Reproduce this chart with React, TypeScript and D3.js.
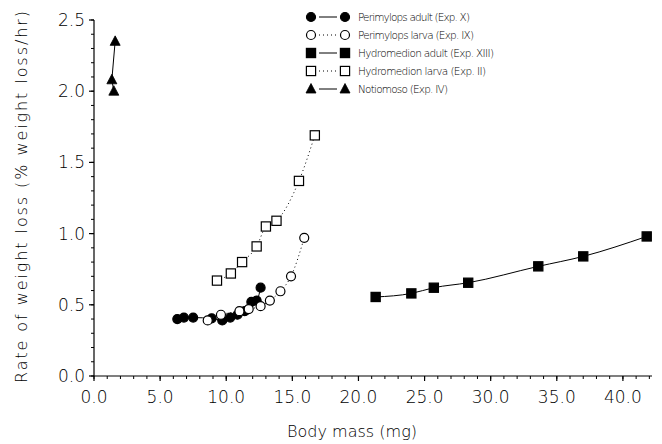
import React from "react";
import * as d3 from "d3";

const perimylopsAdult: [number, number][] = [
  [6.3, 0.40], [6.8, 0.41], [7.5, 0.41], [8.9, 0.405], [9.7, 0.39], [10.3, 0.41],
  [10.85, 0.43], [11.4, 0.455], [11.9, 0.52], [12.3, 0.53], [12.6, 0.62],
];
const perimylopsLarva: [number, number][] = [
  [8.6, 0.39], [9.6, 0.43], [11.0, 0.455], [11.7, 0.47], [12.6, 0.49],
  [13.3, 0.53], [14.1, 0.595], [14.9, 0.70], [15.9, 0.97],
];
const hydroAdult: [number, number][] = [
  [21.3, 0.555], [24.0, 0.58], [25.7, 0.62], [28.3, 0.655], [33.6, 0.77], [37.0, 0.84], [41.8, 0.98],
];
const hydroLarva: [number, number][] = [
  [9.3, 0.67], [10.35, 0.72], [11.2, 0.80], [12.3, 0.91], [13.0, 1.05], [13.8, 1.09], [15.5, 1.37], [16.7, 1.69],
];
const notiomoso: [number, number][] = [
  [1.6, 2.35], [1.35, 2.08], [1.5, 2.0],
];

const xMajor = [0, 5, 10, 15, 20, 25, 30, 35, 40];
const yMajor = [0, 0.5, 1.0, 1.5, 2.0, 2.5];
const legendLabels = [
  "Perimylops adult (Exp. X)",
  "Perimylops larva (Exp. IX)",
  "Hydromedion adult (Exp. XIII)",
  "Hydromedion larva (Exp. II)",
  "Notiomoso (Exp. IV)",
];
const legendLengths = [112, 116, 136, 128, 90];

const FONT = "'DejaVu Sans', sans-serif";

type Shape = "circle" | "square" | "triangle";

function Marker({ x, y, shape, filled }: { x: number; y: number; shape: Shape; filled: boolean }) {
  const fill = filled ? "#000" : "#fff";
  if (shape === "circle")
    return <circle cx={x} cy={y} r={4.5} fill={fill} stroke="#000" strokeWidth={1.2} />;
  if (shape === "square")
    return <rect x={x - 4.6} y={y - 4.6} width={9.2} height={9.2} fill={fill} stroke="#000" strokeWidth={1.2} />;
  return <path d={`M${x},${y - 5.5} L${x + 5},${y + 4} L${x - 5},${y + 4} Z`} fill={fill} stroke="#000" strokeWidth={0.8} />;
}

export default function App() {
  const W = 662, H = 444;
  const x = d3.scaleLinear().domain([0, 42.2]).range([94, 652]);
  const y = d3.scaleLinear().domain([0, 2.5]).range([376, 20]);
  const xMinor = d3.range(0, 43, 1);
  const yMinor = d3.range(0, 2.51, 0.1);

  const smooth = d3.line<[number, number]>().x(d => x(d[0])).y(d => y(d[1])).curve(d3.curveMonotoneX);
  const straight = d3.line<[number, number]>().x(d => x(d[0])).y(d => y(d[1]));

  const series = [
    { data: perimylopsAdult, shape: "circle" as Shape, filled: true, dash: undefined, line: smooth },
    { data: perimylopsLarva, shape: "circle" as Shape, filled: false, dash: "1 3", line: smooth },
    { data: hydroAdult, shape: "square" as Shape, filled: true, dash: undefined, line: smooth },
    { data: hydroLarva, shape: "square" as Shape, filled: false, dash: "1 3", line: smooth },
    { data: notiomoso, shape: "triangle" as Shape, filled: true, dash: undefined, line: straight },
  ];

  const legX = 311, legY = 17, legDy = 18;

  return (
    <svg width={W} height={H} style={{ position: "absolute", left: 0, top: 0, background: "#fff" }}>
      <rect width={W} height={H} fill="#fff" />
      {/* axes */}
      <line x1={x(0)} x2={x(42.2)} y1={y(0)} y2={y(0)} stroke="#000" strokeWidth={1.2} />
      <line x1={x(0)} x2={x(0)} y1={y(0)} y2={y(2.5)} stroke="#000" strokeWidth={1.2} />
      {xMinor.map(v => (
        <line key={"xm" + v} x1={x(v)} x2={x(v)} y1={y(0)} y2={y(0) + 3} stroke="#000" strokeWidth={1} />
      ))}
      {xMajor.map(v => (
        <g key={"xM" + v}>
          <line x1={x(v)} x2={x(v)} y1={y(0)} y2={y(0) + 5} stroke="#000" strokeWidth={1.2} />
          <text x={x(v)} y={y(0) + 27} textAnchor="middle" fontFamily={FONT} fontSize={17} fontWeight={200} fill="#000">
            {v.toFixed(1)}
          </text>
        </g>
      ))}
      {yMinor.map((v, i) => (
        <line key={"ym" + i} x1={x(0) - 3} x2={x(0)} y1={y(v)} y2={y(v)} stroke="#000" strokeWidth={1} />
      ))}
      {yMajor.map(v => (
        <g key={"yM" + v}>
          <line x1={x(0) - 5} x2={x(0)} y1={y(v)} y2={y(v)} stroke="#000" strokeWidth={1.2} />
          <text x={x(0) - 9} y={y(v) + 6} textAnchor="end" fontFamily={FONT} fontSize={17} fontWeight={200} fill="#000">
            {v.toFixed(1)}
          </text>
        </g>
      ))}
      <text x={352} y={437} textAnchor="middle" fontFamily={FONT} fontSize={16} fontWeight={200} fill="#000"
        textLength={130} lengthAdjust="spacing">
        Body mass (mg)
      </text>
      <text transform={`translate(27,197) rotate(-90)`} textAnchor="middle" fontFamily={FONT} fontSize={16} fontWeight={200} fill="#000"
        textLength={372} lengthAdjust="spacing">
        Rate of weight loss (% weight loss/hr)
      </text>

      {/* series */}
      {series.map((s, i) => (
        <path key={"l" + i} d={s.line(s.data) || ""} fill="none" stroke="#000" strokeWidth={1} strokeDasharray={s.dash} />
      ))}
      {series.map((s, i) => (
        <g key={"m" + i}>
          {s.data.map((d, j) => (
            <Marker key={j} x={x(d[0])} y={y(d[1])} shape={s.shape} filled={s.filled} />
          ))}
        </g>
      ))}

      {/* legend */}
      {series.map((s, i) => {
        const ly = legY + i * legDy;
        return (
          <g key={"lg" + i}>
            <line x1={legX + 8} x2={legX + 26} y1={ly} y2={ly} stroke="#000" strokeWidth={1} strokeDasharray={s.dash} />
            <Marker x={legX} y={ly} shape={s.shape} filled={s.filled} />
            <Marker x={legX + 34} y={ly} shape={s.shape} filled={s.filled} />
            <text x={legX + 47} y={ly + 4} fontFamily={FONT} fontSize={10.5} fontWeight={200} fill="#000"
              textLength={legendLengths[i]} lengthAdjust="spacing">
              {legendLabels[i]}
            </text>
          </g>
        );
      })}
    </svg>
  );
}
